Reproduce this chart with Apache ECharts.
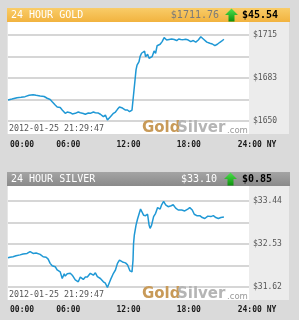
<!DOCTYPE html>
<html><head><meta charset="utf-8">
<script src="https://cdn.jsdelivr.net/npm/echarts@6/dist/echarts.min.js"></script>
<style>html,body{margin:0;padding:0;background:#dadada}#c{width:299px;height:320px}</style>
</head><body><div id="c"></div>
<script>
// ---- data ----
const hourTicks = [0, 6, 12, 18, 24];
const goldHours = [0,0.4,0.9,1.3,1.7,2.1,2.5,2.8,3.2,3.6,3.9,4.2,4.4,4.7,4.9,5.0,5.2,5.4,5.7,5.9,6.2,6.4,6.7,7.0,7.2,7.5,7.7,8.0,8.2,8.5,8.7,9.0,9.2,9.5,9.7,9.9,10.2,10.5,10.7,10.9,11.1,11.2,11.4,11.5,11.7,11.9,12.1,12.35,12.45,12.55,12.65,12.75,12.85,12.95,13.05,13.15,13.3,13.45,13.6,13.7,13.9,14.05,14.2,14.35,14.55,14.7,14.85,15.15,15.35,15.55,15.8,16.05,16.3,16.55,16.8,17.0,17.2,17.45,17.7,17.95,18.2,18.45,18.7,18.95,19.2,19.45,19.6,19.8,20.1,20.35,20.6,20.85,21.1,21.3,21.5];
const goldPrices = [1665.9,1666.6,1667.6,1667.9,1668.4,1669.4,1669.9,1669.4,1668.9,1668.5,1667.2,1666.3,1664.6,1662.1,1660.6,1659.6,1660.2,1658.3,1655.8,1656.8,1656.3,1655.3,1655.8,1656.8,1656.3,1655.7,1655.1,1656.0,1655.8,1656.8,1656.3,1656.0,1655.1,1653.3,1654.5,1650.8,1653.3,1655.8,1656.8,1658.8,1660.6,1661.3,1659.8,1658.8,1658.3,1658.3,1657.0,1658.3,1665.9,1673.4,1681.0,1688.6,1692.3,1693.8,1694.8,1698.7,1701.2,1702.2,1702.9,1698.6,1700.4,1697.4,1696.1,1698.6,1702.9,1701.2,1706.9,1708.0,1710.0,1713.0,1711.2,1711.6,1712.0,1711.6,1710.8,1712.0,1711.6,1711.5,1711.8,1711.2,1710.0,1710.8,1709.6,1711.2,1713.7,1712.0,1710.5,1709.6,1708.8,1708.2,1706.9,1708.0,1709.5,1710.5,1711.76];
const silverHours = [0,0.2,0.5,0.8,1.2,1.5,1.9,2.2,2.5,2.8,3.2,3.5,3.8,4.0,4.2,4.4,4.7,4.9,5.0,5.2,5.4,5.6,5.7,5.9,6.2,6.4,6.7,7.0,7.2,7.5,7.7,7.9,8.2,8.5,8.7,8.9,9.2,9.5,9.7,9.9,10.2,10.5,10.7,10.9,11.1,11.2,11.4,11.5,11.7,11.9,12.05,12.15,12.35,12.45,12.5,12.58,12.75,12.9,13.05,13.2,13.3,13.5,13.7,13.9,14.05,14.15,14.3,14.5,14.7,14.9,15.15,15.3,15.5,15.7,15.95,16.25,16.45,16.7,16.95,17.3,17.6,17.9,18.1,18.35,18.55,18.8,19.1,19.35,19.6,19.9,20.2,20.45,20.7,20.95,21.2,21.5];
const silverPrices = [32.24,32.25,32.26,32.28,32.30,32.32,32.33,32.37,32.33,32.34,32.31,32.26,32.25,32.21,32.12,32.07,32.05,31.98,32.02,31.94,31.80,31.90,31.85,31.90,31.91,31.87,31.77,31.73,31.83,31.78,31.83,31.83,31.91,31.87,31.92,31.84,31.80,31.73,31.70,31.61,31.77,31.91,31.98,32.12,32.19,32.21,32.15,32.12,32.13,32.09,32.11,31.96,31.94,32.19,32.53,32.72,32.93,33.06,33.07,33.27,33.25,33.14,33.13,33.16,32.93,32.86,32.93,33.11,33.18,33.30,33.27,33.36,33.43,33.36,33.32,33.34,33.36,33.29,33.25,33.25,33.23,33.27,33.30,33.25,33.16,33.13,33.13,33.09,33.07,33.12,33.11,33.13,33.09,33.07,33.09,33.10];
const goldAxis = {min: 1650, max: 1715, interval: 16.25};
const silverAxis = {min: 31.62, max: 33.44, interval: 0.455};
const goldTitle = '24 HOUR GOLD', goldPrice = '$1711.76', goldChange = '$45.54';
const silverTitle = '24 HOUR SILVER', silverPrice = '$33.10', silverChange = '$0.85';
const timestamp = '2012-01-25 21:29:47';

// ---- chart ----
const MONO = 'DejaVu Sans Mono';
const zip = (a, b) => a.slice(0, Math.min(a.length, b.length)).map((v, i) => [v, b[i]]);
function xAxisFor(i) {
  return {
    type: 'value', gridIndex: i, min: 0, max: 24, interval: 6,
    axisLine: {show: false}, axisTick: {show: false}, splitLine: {show: false},
    axisLabel: {
      margin: i ? 19 : 20, fontFamily: MONO, fontSize: 8, fontWeight: 'bold', color: '#1a1a1a',
      alignMinLabel: 'left',
      formatter: v => {
        const t = String(v).padStart(2, '0') + ':00';
        if (v === 0) return '{m|' + t + '}';
        if (v === 24) return '{n|' + t + ' NY}';
        return t;
      },
      rich: {
        m: {padding: [0, 0, 0, 2], fontFamily: MONO, fontSize: 8, fontWeight: 'bold', color: '#1a1a1a'},
        n: {padding: [0, 0, 0, 16], fontFamily: MONO, fontSize: 8, fontWeight: 'bold', color: '#1a1a1a'}
      }
    }
  };
}
function yAxisFor(i, ax, fmt) {
  return {
    type: 'value', gridIndex: i, position: 'right', min: ax.min, max: ax.max, interval: ax.interval,
    axisLine: {show: false}, axisTick: {show: false},
    splitLine: {show: true, lineStyle: {color: '#c8c8c8', width: 1.5}},
    axisLabel: {margin: 4, fontFamily: MONO, fontSize: 8, color: '#555', formatter: (v, idx) => idx % 2 === 0 ? fmt(v) : ''}
  };
}
function arrow(x, y) {
  return {type: 'polygon', z: 50, shape: {points: [[x, y + 6.5], [x + 6.5, y], [x + 13, y + 6.5], [x + 9.5, y + 6.5], [x + 9.5, y + 13], [x + 3.5, y + 13], [x + 3.5, y + 6.5]]},
    style: {fill: new echarts.graphic.LinearGradient(0, 0, 0, 1, [{offset: 0, color: '#4ee24e'}, {offset: 1, color: '#0d900d'}])}};
}
function txt(x, y, text, font, fill, align, z) {
  return {type: 'text', z: z || 60, x: x, y: y, style: {text: text, font: font, fill: fill, align: align || 'left', verticalAlign: 'middle'}};
}
function panel(top, headerColors, title, price, priceColor, change, priceRight, arrowX, lineTop, plotBottom) {
  return [
    {type: 'rect', z: -20, shape: {x: 7, y: top, width: 283, height: 14},
      style: {fill: new echarts.graphic.LinearGradient(0, 0, 0, 1, [{offset: 0, color: headerColors[0]}, {offset: 1, color: headerColors[1]}])}},
    {type: 'rect', z: -20, shape: {x: 7, y: top + 14, width: 242, height: plotBottom - top - 14}, style: {fill: '#ffffff'}},
    {type: 'rect', z: -20, shape: {x: 7, y: top + 14, width: 1, height: plotBottom - top - 14}, style: {fill: '#e6e6e6'}},
    {type: 'rect', z: -20, shape: {x: 249, y: top + 14, width: 40, height: plotBottom - top - 14}, style: {fill: '#ececec'}},
    txt(11, top + 7.5, title, '10px ' + MONO, '#ffffff'),
    txt(priceRight, top + 7.5, price, '10px ' + MONO, priceColor, 'right'),
    arrow(arrowX, top + 0.5),
    txt(242, top + 7.5, change, 'bold 10px ' + MONO, '#000000'),
    txt(9, plotBottom - 5.5, timestamp, '8.3px ' + MONO, '#555555'),
    txt(142, plotBottom - 5.5, 'Gold', 'bold 15px "DejaVu Sans"', '#c89a58'),
    txt(177, plotBottom - 5.5, 'Silver', 'bold 15px "DejaVu Sans"', '#b5b5b5'),
    txt(227, plotBottom - 3.5, '.com', '8.5px "DejaVu Sans"', '#9a9a9a')
  ];
}

const chart = echarts.init(document.getElementById('c'), null, {renderer: 'canvas'});
chart.setOption({
  animation: false,
  backgroundColor: '#dadada',
  grid: [
    {left: 8, top: 35, width: 241, height: 86},
    {left: 8, top: 201, width: 241, height: 86}
  ],
  xAxis: [xAxisFor(0), xAxisFor(1)],
  yAxis: [
    yAxisFor(0, goldAxis, v => '$' + Math.round(v)),
    yAxisFor(1, silverAxis, v => '$' + v.toFixed(2))
  ],
  graphic: {elements: [].concat(
    panel(8, ['#f9cc68', '#f2b33f'], goldTitle, goldPrice, '#7a7a7a', goldChange, 219, 225, 35, 134),
    panel(172, ['#a4a4a4', '#8a8a8a'], silverTitle, silverPrice, '#ffffff', silverChange, 217, 224, 201, 300)
  )},
  series: [
    {type: 'line', xAxisIndex: 0, yAxisIndex: 0, data: zip(goldHours, goldPrices), showSymbol: false, clip: false,
      lineStyle: {color: '#1f98d5', width: 1.5}},
    {type: 'line', xAxisIndex: 1, yAxisIndex: 1, data: zip(silverHours, silverPrices), showSymbol: false, clip: false,
      lineStyle: {color: '#1f98d5', width: 1.5}}
  ]
});
</script></body></html>
